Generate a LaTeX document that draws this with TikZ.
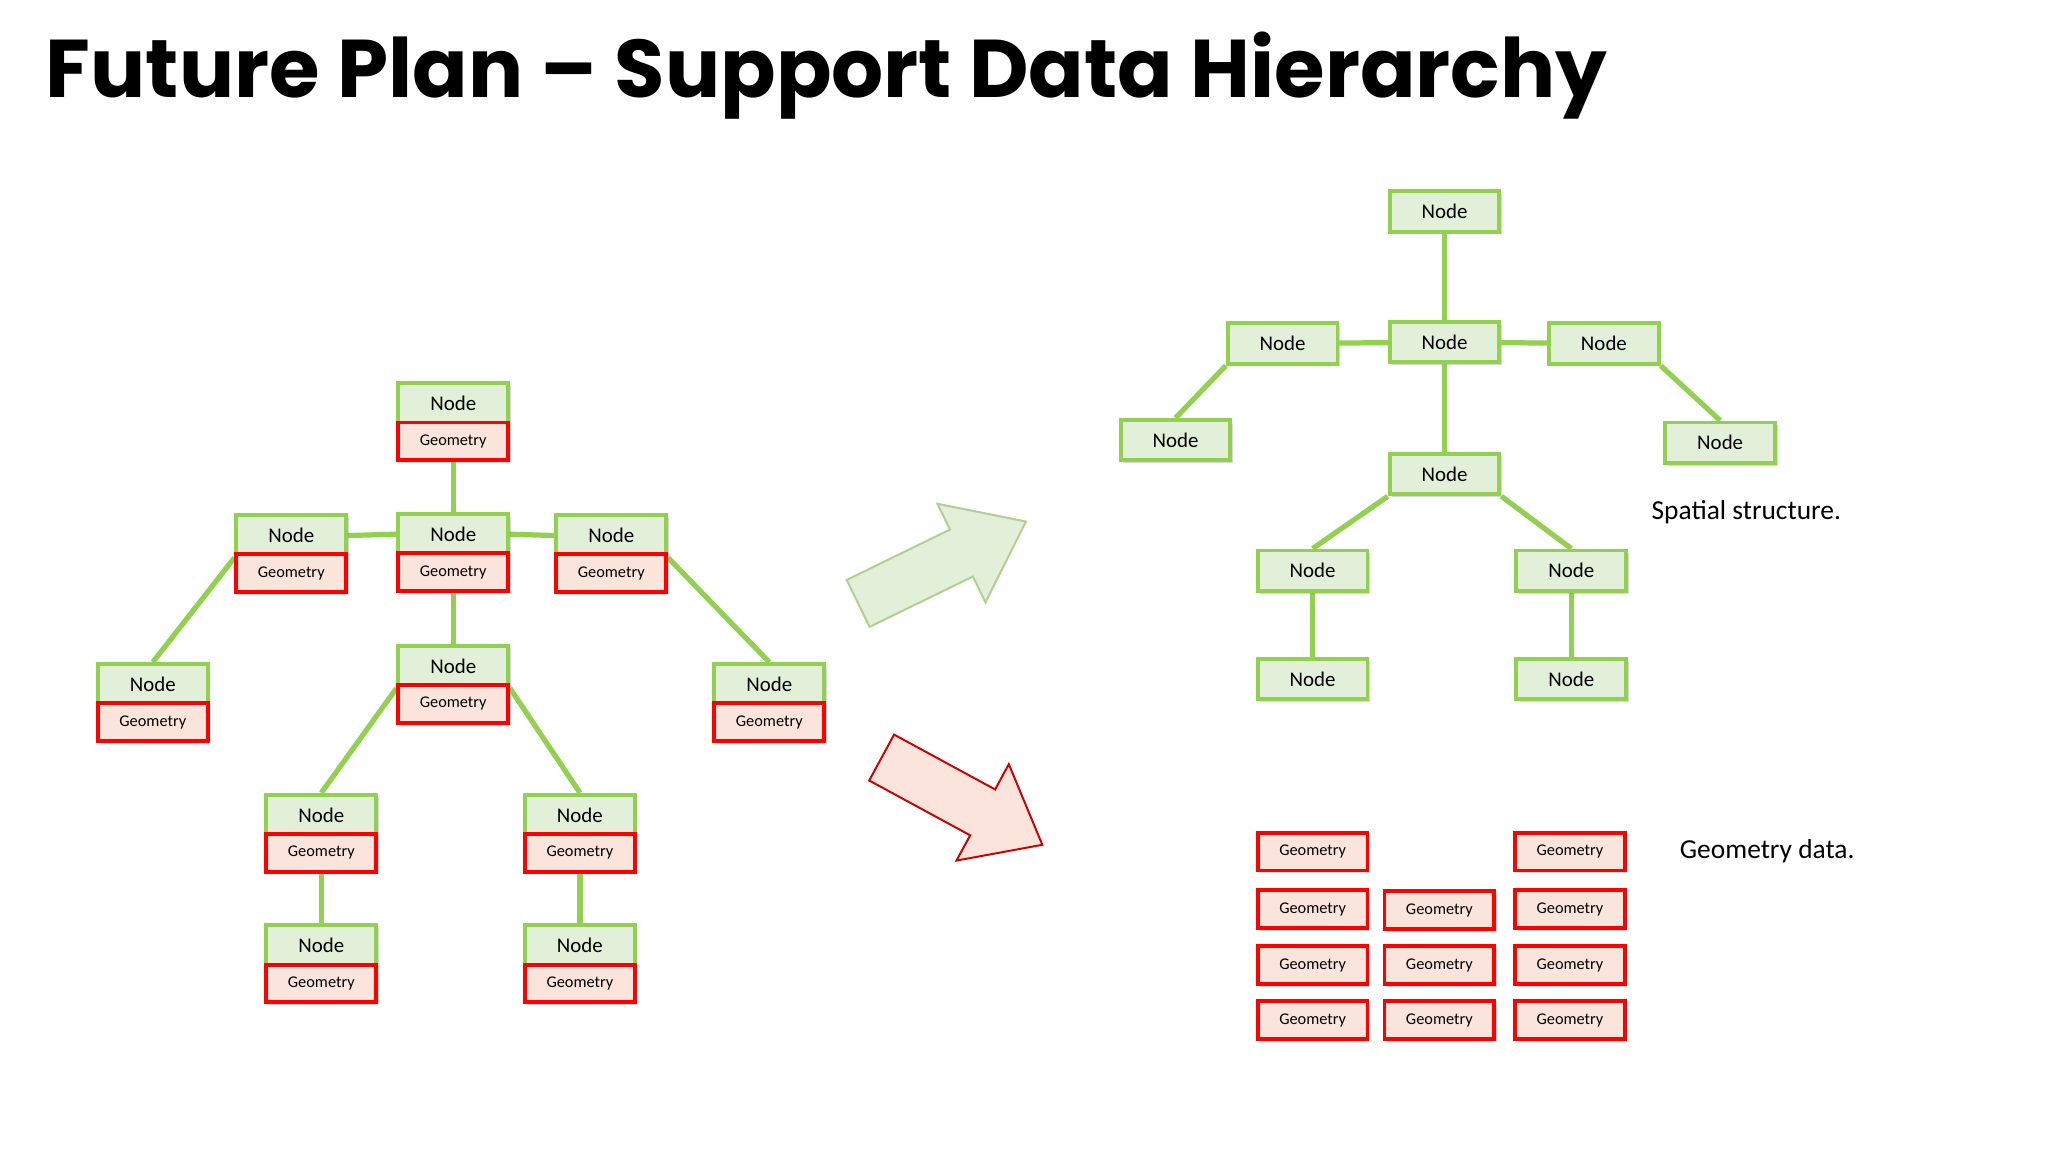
\documentclass[tikz,border=0pt]{standalone}
\usepackage{fontspec}
\setmainfont{Carlito}
\newfontfamily\titlefont{Poppins}
\usetikzlibrary{shadows,backgrounds}
\definecolor{ng}{HTML}{92D050}
\definecolor{nf}{HTML}{E2EFD9}
\definecolor{gf}{HTML}{FBE4DC}
\definecolor{gr}{HTML}{FF0000}
\tikzset{
 nbox/.style={draw=ng,fill=nf,line width=3pt,minimum width=84pt,minimum height=31pt,inner sep=0pt,font=\fontsize{16}{18}\selectfont,drop shadow={opacity=0.3,shadow xshift=2pt,shadow yshift=-2pt}},
 gbox/.style={draw=gr,fill=gf,line width=3pt,minimum width=84pt,minimum height=29pt,inner sep=0pt,font=\fontsize{12.5}{14}\selectfont,drop shadow={opacity=0.3,shadow xshift=2pt,shadow yshift=-2pt}},
 link/.style={draw=ng,line width=4pt},
 lbl/.style={font=\fontsize{21}{24}\selectfont,anchor=center}
}
\newcommand\mypair[3]{\node[nbox,anchor=north] (#1) at (#2,#3) {Node};
 \node[gbox,anchor=north] (#1g) at (#2,#3+30) {Geometry};}
\newcommand\mynode[3]{\node[nbox] (#1) at (#2,#3) {Node};}
\newcommand\mygeo[3]{\node[gbox] (#1) at (#2,#3) {Geometry};}
\begin{document}
\begin{tikzpicture}[x=1pt,y=-1pt]
\useasboundingbox (0,0) rectangle (1568,882);
\node[anchor=west,inner sep=0pt] (title) at (35,58) {\resizebox{1195pt}{!}{\titlefont\bfseries Future Plan – Support Data Hierarchy}};
\mypair{r}{347}{292}
\mypair{l}{223}{393}
\mypair{c}{347}{392}
\mypair{rr}{468}{393}
\mypair{fl}{117}{507}
\mypair{fr}{589}{507}
\mypair{cc}{347}{493}
\mypair{a}{246}{607}
\mypair{b}{444}{607}
\mypair{aa}{246}{707}
\mypair{bb}{444}{707}
\begin{scope}[on background layer]
\draw[link] (rg.south) -- (c.north);
\draw[link] (l.east) -- (c.west);
\draw[link] (c.east) -- (rr.west);
\draw[link] (l.south west) -- (fl.north);
\draw[link] (rr.south east) -- (fr.north);
\draw[link] (cg.south) -- (cc.north);
\draw[link] (cc.south west) -- (a.north);
\draw[link] (cc.south east) -- (b.north);
\draw[link] (ag.south) -- (aa.north);
\draw[link] (bg.south) -- (bb.north);
\end{scope}
% arrows
\begin{scope}[shift={(657,462)},rotate=26]
\draw[ng!85!black!60,fill=nf,line width=1.5pt,line join=miter] (0,-20)--(88,-20)--(88,-42)--(143,0)--(88,42)--(88,20)--(0,20)--cycle;
\end{scope}
\begin{scope}[shift={(675,580)},rotate=-28.5]
\draw[gr!80!black,fill=gf,line width=1.5pt] (0,-20)--(88,-20)--(88,-42)--(140,0)--(88,42)--(88,20)--(0,20)--cycle;
\end{scope}
% right tree
\mynode{t}{1106}{162}
\mynode{m}{1106}{262}
\mynode{ml}{982}{263}
\mynode{mr}{1228}{263}
\mynode{fl2}{900}{337}
\mynode{fr2}{1317}{339}
\mynode{lo}{1106}{363}
\mynode{ll}{1005}{437}
\mynode{lr}{1203}{437}
\mynode{lll}{1005}{520}
\mynode{lrr}{1203}{520}
\begin{scope}[on background layer]
\draw[link] (t) -- (m);
\draw[link] (ml) -- (m);
\draw[link] (m) -- (mr);
\draw[link] (ml.south west) -- (fl2.north);
\draw[link] (mr.south east) -- (fr2.north);
\draw[link] (m) -- (lo);
\draw[link] (lo.south west) -- (ll.north);
\draw[link] (lo.south east) -- (lr.north);
\draw[link] (ll) -- (lll);
\draw[link] (lr) -- (lrr);
\end{scope}
\node[lbl] (ss) at (1337,392) {Spatial structure.};
% geometry grid
\mygeo{g1}{1005}{652}\mygeo{g2}{1202}{652}
\mygeo{g3}{1005}{696}\mygeo{g4}{1102}{697}\mygeo{g5}{1202}{696}
\mygeo{g6}{1005}{739}\mygeo{g7}{1102}{739}\mygeo{g8}{1202}{739}
\mygeo{g9}{1005}{781}\mygeo{g10}{1102}{781}\mygeo{g11}{1202}{781}
\node[lbl] (gd) at (1353,652) {Geometry data.};
\end{tikzpicture}
\end{document}
